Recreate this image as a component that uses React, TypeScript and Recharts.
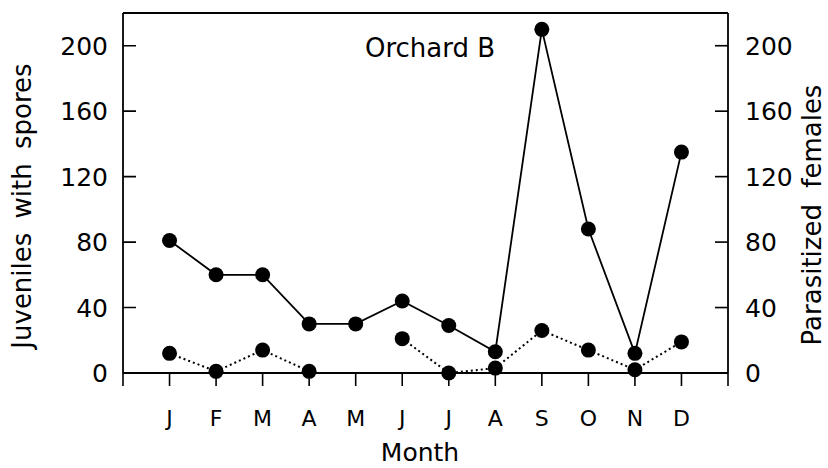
import { LineChart, Line, XAxis, YAxis, ReferenceLine, ReferenceArea } from "recharts";

// Orchard B, monthly counts
const months = ["J", "F", "M", "A", "M", "J", "J", "A", "S", "O", "N", "D"];
const juveniles = [81, 60, 60, 30, 30, 44, 29, 13, 210, 88, 12, 135];
const parasitized: (number | null)[] = [12, 1, 14, 1, null, 21, 0, 3, 26, 14, 2, 19];
const yTicks = [0, 40, 80, 120, 160, 200];
const xTicks = [0, 1, 2, 3, 4, 5, 6, 7, 8, 9, 10, 11, 12, 13];

const data = months.map((m, i) => ({ x: i + 1, month: m, juv: juveniles[i], par: parasitized[i] }));

const FONT = "'DejaVu Sans', sans-serif";
const TICK_LEN = 0.28; // inward tick length in x units (~13px)
const TICK_HALF = 0.5; // half tick thickness in y units (~0.8px)

function LeftTick(props: any) {
  const { x, y, payload } = props;
  return (
    <text x={x} y={y} dy={9} textAnchor="end" fontFamily={FONT} fontSize={25} fill="#000">
      {payload.value}
    </text>
  );
}

function RightTick(props: any) {
  const { x, y, payload } = props;
  return (
    <text x={x} y={y} dy={9} textAnchor="start" fontFamily={FONT} fontSize={25} fill="#000">
      {payload.value}
    </text>
  );
}

function MonthTick(props: any) {
  const { x, y, payload } = props;
  const label = months[payload.value - 1] ?? "";
  return (
    <text x={x} y={y} dy={38} textAnchor="middle" fontFamily={FONT} fontSize={22} fill="#000">
      {label}
    </text>
  );
}

export default function App() {
  return (
    <div style={{ position: "absolute", left: 0, top: 0, width: 828, height: 468, background: "#fff" }}>
      <LineChart width={828} height={468} data={data} margin={{ top: 13, right: 0, bottom: 0, left: 0 }}>
        <XAxis
          dataKey="x"
          type="number"
          domain={[0, 13]}
          ticks={xTicks}
          interval={0}
          height={95}
          tickSize={13}
          tickMargin={2}
          axisLine={{ stroke: "#000", strokeWidth: 1.8 }}
          tickLine={{ stroke: "#000", strokeWidth: 1.6 }}
          tick={<MonthTick />}
          label={{
            content: () => (
              <text x={420} y={461} textAnchor="middle" fontFamily={FONT} fontSize={25} fill="#000">
                Month
              </text>
            ),
          }}
        />
        <YAxis
          yAxisId="left"
          domain={[0, 220]}
          ticks={yTicks}
          width={123}
          tickSize={0}
          tickMargin={15}
          tickLine={false}
          axisLine={{ stroke: "#000", strokeWidth: 1.8 }}
          tick={<LeftTick />}
          label={{
            content: () => (
              <text x={31} y={206} transform="rotate(-90 31 206)" textAnchor="middle" fontFamily={FONT} fontSize={26} wordSpacing={6} fill="#000">
                Juveniles with spores
              </text>
            ),
          }}
        />
        <YAxis
          yAxisId="right"
          orientation="right"
          domain={[0, 220]}
          ticks={yTicks}
          width={100}
          tickSize={0}
          tickMargin={17}
          tickLine={false}
          axisLine={{ stroke: "#000", strokeWidth: 1.8 }}
          tick={<RightTick />}
          label={{
            content: () => (
              <text x={821} y={215} transform="rotate(-90 821 215)" textAnchor="middle" fontFamily={FONT} fontSize={26} wordSpacing={8} fill="#000">
                Parasitized females
              </text>
            ),
          }}
        />
        <ReferenceLine yAxisId="left" y={220} stroke="#000" strokeWidth={1.8} ifOverflow="visible" />
        {yTicks.map((v) => (
          <ReferenceArea
            key={`l${v}`}
            yAxisId="left"
            x1={0}
            x2={TICK_LEN}
            y1={v - TICK_HALF}
            y2={v + TICK_HALF}
            fill="#000"
            fillOpacity={1}
            stroke="none"
            ifOverflow="visible"
          />
        ))}
        {yTicks.map((v) => (
          <ReferenceArea
            key={`r${v}`}
            yAxisId="right"
            x1={13 - TICK_LEN}
            x2={13}
            y1={v - TICK_HALF}
            y2={v + TICK_HALF}
            fill="#000"
            fillOpacity={1}
            stroke="none"
            ifOverflow="visible"
          />
        ))}
        <ReferenceLine
          yAxisId="left"
          y={200}
          stroke="none"
          label={{
            content: () => (
              <text x={430} y={57} textAnchor="middle" fontFamily={FONT} fontSize={26} fill="#000">
                Orchard B
              </text>
            ),
          }}
        />
        <Line
          yAxisId="left"
          dataKey="juv"
          stroke="#000"
          strokeWidth={1.8}
          dot={{ r: 7.5, fill: "#000", stroke: "#000", strokeWidth: 0 }}
          activeDot={false}
          isAnimationActive={false}
        />
        <Line
          yAxisId="right"
          dataKey="par"
          stroke="#000"
          strokeWidth={2}
          strokeDasharray="2 3"
          dot={{ r: 7.5, fill: "#000", stroke: "#000", strokeWidth: 0 }}
          activeDot={false}
          isAnimationActive={false}
        />
      </LineChart>
    </div>
  );
}
